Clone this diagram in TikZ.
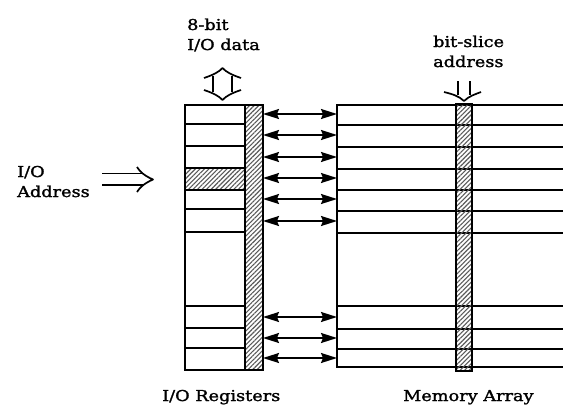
\documentclass[tikz,border=0pt]{standalone}
\usepackage{fontspec}
\newfontfamily\lblfont[FakeStretch=1.18,FakeBold=1.6]{DejaVu Serif}
\usetikzlibrary{arrows.meta,patterns.meta}
\tikzset{
  frame/.style={line width=2pt},
  rowline/.style={line width=1.7pt},
  hatch/.style={draw, line width=1.7pt, pattern={Lines[angle=45,distance=3.2pt,line width=1.1pt]}, pattern color=black!65},
  biarrow/.style={line width=1.6pt, {Stealth[length=16pt,width=10pt,inset=2pt]}-{Stealth[length=16pt,width=10pt,inset=2pt]}},
  openarrow/.style={line width=1.7pt, line join=round},
  lbl/.style={font=\lblfont\fontsize{15pt}{17pt}\selectfont, anchor=base west, inner sep=0pt}
}
\begin{document}
\begin{tikzpicture}[x=1pt,y=-1pt]
\useasboundingbox (0,0) rectangle (563,405);
% ---------- I/O registers ----------
\fill[hatch] (185,168) rectangle (245,190);
\foreach \y in {124,146,168,190,209,232,306,328,348}
  \draw[rowline] (185,\y) -- (245,\y);
\draw[hatch] (245,105) rectangle (263,370);
\draw[frame] (185,105) rectangle (263,370);
% ---------- Memory array ----------
\draw[frame] (564,105) -- (337,105) -- (337,367) -- (564,367);
\foreach \y in {125,147,169,190,211,233,306,329,349}
  \draw[rowline] (337,\y) -- (564,\y);
\draw[hatch] (456,104) rectangle (472,371);
% ---------- bidirectional arrows ----------
\foreach \i/\y in {1/114,2/135,3/157,4/178,5/199,6/221,7/317,8/338,9/358}{
  \coordinate (r\i) at (263,\y);
  \coordinate (m\i) at (337,\y);
  \draw[biarrow] (r\i) -- (m\i);
}
% ---------- I/O data arrow (up-down) ----------
\draw[openarrow] (213,76) -- (213,92) (232,76) -- (232,92);
\draw[openarrow] (204,78) .. controls (213,75) and (219,72) .. (222.5,68) .. controls (226,72) and (232,75) .. (241,78);
\draw[openarrow] (204,90) .. controls (213,93) and (219,96) .. (222.5,100) .. controls (226,96) and (232,93) .. (241,90);
% ---------- bit-slice address arrow (down) ----------
\draw[openarrow] (458,81) -- (458,95) (470,81) -- (470,95);
\draw[openarrow] (444,92) .. controls (452,94) and (459,96) .. (464,101) .. controls (469,96) and (476,94) .. (481,92);
% ---------- I/O address arrow (right) ----------
\draw[openarrow] (102,173.5) -- (144,173.5) (102,185) -- (144,185);
\draw[openarrow] (137,167) .. controls (140,172) and (145,176) .. (153,179.5) .. controls (145,183) and (140,187) .. (137,192);
% ---------- labels ----------
\node[lbl] (t8bit) at (187,30) {8-bit};
\node[lbl] (tiod) at (187,50) {I/O data};
\node[lbl] (tbs) at (433,47) {bit-slice};
\node[lbl] (taddr) at (433,67) {address};
\node[lbl] (tio) at (17,177) {I/O};
\node[lbl] (tioa) at (17,197) {Address};
\node[lbl] (tior) at (162,401) {I/O Registers};
\node[lbl] (tmem) at (403,401) {Memory Array};
\end{tikzpicture}
\end{document}
